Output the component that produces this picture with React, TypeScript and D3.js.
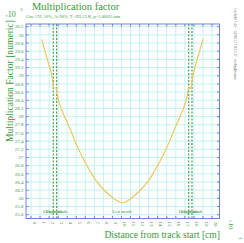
import React from "react";
import * as d3 from "d3";

// ---- data (distance in cm, multiplication factor in units of 10^3) ----
const distanceCm = [
  0.118, 0.150, 0.182, 0.229, 0.240, 0.250, 0.280, 0.290, 0.302, 0.339,
  0.376, 0.431, 0.486, 0.541, 0.597, 0.652, 0.707, 0.762, 0.818, 0.873,
  0.928, 0.983, 1.009, 1.036, 1.091, 1.145, 1.200, 1.256, 1.311, 1.366,
  1.421, 1.477, 1.532, 1.587, 1.642, 1.679, 1.716, 1.728, 1.738, 1.768,
  1.778, 1.789, 1.836, 1.868, 1.900,
];
const multFactor = [
  29.89, 29.64, 29.39, 29.02, 28.85, 28.70, 28.70, 28.53, 28.41, 28.16,
  27.97, 27.70, 27.40, 27.13, 26.89, 26.67, 26.47, 26.31, 26.18, 26.07,
  25.97, 25.90, 25.89, 25.90, 25.97, 26.07, 26.18, 26.31, 26.47, 26.67,
  26.89, 27.13, 27.40, 27.70, 27.97, 28.16, 28.41, 28.53, 28.70, 28.70,
  28.85, 29.02, 29.39, 29.64, 29.89,
];
const wirePositions = [0.246, 0.284, 1.743, 1.779];
const wireLabelPositions = [0.246, 0.284, 1.010, 1.743, 1.779];
const wireLabels = ["Left anode", "Right anode", "Left anode", "Left anode", "Right anode"];
const xTickValues = d3.range(0, 21).map((k) => k / 10);
const xTickLabels = d3.range(0, 21).map((k) => String(k));
const yTickValues = d3.range(0, 24).map((k) => 25.6 + k * 0.2);
const yTickLabels = yTickValues.map((v) => String(+v.toFixed(1)));

const TITLE = "Multiplication factor";
const SUBTITLE = "Gas: CH\u2084 10%, Ar 90%, T=293.15 K, p=1.00025 atm";
const XTITLE = "Distance from track start [cm]";
const YTITLE = "Multiplication Factor [numeric]";
const STAMP = "Garfield 7.45 - 14/03/12 10:21:37 - multiplication";

export default function App() {
  const W = 244, H = 243;
  const L = 26, R = 219.5, T = 24, B = 218.5;
  const x = d3.scaleLinear().domain([-0.0552, 2.0829]).range([L, R]);
  const y = d3.scaleLinear().domain([25.507, 30.266]).range([B, T]);
  const green = "#3a9a3a";
  const blue = "#7080e8";
  const grid = "#c4f2f4";
  const serif = "'Liberation Serif', 'DejaVu Serif', serif";

  const line = d3
    .line<number>()
    .x((_, i) => x(distanceCm[i]))
    .y((d) => y(d));

  return (
    <svg
      width={W}
      height={H}
      style={{ position: "absolute", left: 0, top: 0, background: "#fff" }}
      fontFamily={serif}
    >
      <rect x={0} y={0} width={W} height={H} fill="#fff" />
      {/* grid */}
      {xTickValues.map((v, i) => (
        <line key={"gx" + i} x1={x(v)} x2={x(v)} y1={T} y2={B} stroke={grid} strokeWidth={1} />
      ))}
      {yTickValues.map((v, i) => (
        <line key={"gy" + i} x1={L} x2={R} y1={y(v)} y2={y(v)} stroke={grid} strokeWidth={1} />
      ))}
      {/* wire lines */}
      {wirePositions.map((v, i) => (
        <line
          key={"w" + i}
          x1={x(v)}
          x2={x(v)}
          y1={T}
          y2={B}
          stroke="#2f8a2f"
          strokeWidth={1}
          strokeDasharray="2,1.5"
        />
      ))}
      {/* curve */}
      <path d={line(multFactor) || ""} fill="none" stroke="#f2c24e" strokeWidth={1.1} />
      {/* wire labels */}
      {wireLabelPositions.map((v, i) => (
        <text
          key={"wl" + i}
          x={x(v)}
          y={B - 5.5}
          fontSize={4.6}
          fill={green}
          textAnchor="middle"
        >
          {wireLabels[i]}
        </text>
      ))}
      {/* frame */}
      <rect x={L} y={T} width={R - L} height={B - T} fill="none" stroke={blue} strokeWidth={1} />
      {/* ticks */}
      {xTickValues.map((v, i) => (
        <g key={"tx" + i}>
          <line x1={x(v)} x2={x(v)} y1={B} y2={B - 2.5} stroke={blue} />
          <line x1={x(v)} x2={x(v)} y1={T} y2={T + 2.5} stroke={blue} />
          <text
            transform={`translate(${x(v) + 1.6},${B + 3}) rotate(90)`}
            fontSize={5}
            fill={green}
            textAnchor="start"
          >
            {xTickLabels[i]}
          </text>
        </g>
      ))}
      {yTickValues.map((v, i) => (
        <g key={"ty" + i}>
          <line x1={L} x2={L + 2.5} y1={y(v)} y2={y(v)} stroke={blue} />
          <line x1={R} x2={R - 2.5} y1={y(v)} y2={y(v)} stroke={blue} />
          <text x={L - 2.5} y={y(v) + 1.7} fontSize={5} fill={green} textAnchor="end">
            {yTickLabels[i]}
          </text>
        </g>
      ))}
      {/* titles */}
      <text x={32} y={10} fontSize={10.5} fill={green}>
        {TITLE}
      </text>
      <text x={L} y={18} fontSize={4.4} fill={green}>
        {SUBTITLE}
      </text>
      <text x={5} y={17} fontSize={8} fill={green}>
        <tspan fontSize={5}>×</tspan>10
      </text>
      <text x={20} y={11} fontSize={5} fill={green}>
        3
      </text>
      <text
        transform={`translate(12.5,20) rotate(-90)`}
        fontSize={9.6}
        fill={green}
        textAnchor="end"
      >
        {YTITLE}
      </text>
      <text x={R + 0.5} y={238} fontSize={9.6} fill={green} textAnchor="end">
        {XTITLE}
      </text>
      <text
        transform={`translate(229,220) rotate(90)`}
        fontSize={7}
        fill={green}
      >
        <tspan fontSize={4.5}>×</tspan>10
      </text>
      <text transform={`translate(239,236) rotate(90)`} fontSize={4.5} fill={green}>
        -1
      </text>
      <text transform={`translate(233.5,8) rotate(90)`} fontSize={3.6} fill="#777">
        {STAMP}
      </text>
    </svg>
  );
}
